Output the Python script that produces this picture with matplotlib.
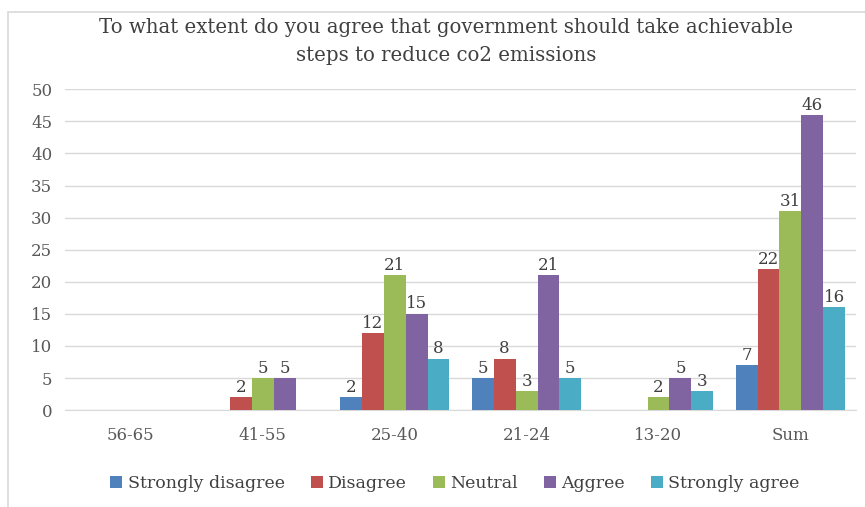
import numpy as np
import matplotlib.pyplot as plt
from matplotlib.patches import Rectangle

categories = ['56-65', '41-55', '25-40', '21-24', '13-20', 'Sum']
series_names = ['Strongly disagree', 'Disagree', 'Neutral', 'Aggree', 'Strongly agree']
strongly_disagree = [0, 0, 2, 5, 0, 7]
disagree = [0, 2, 12, 8, 0, 22]
neutral = [0, 5, 21, 3, 2, 31]
aggree = [0, 5, 15, 21, 5, 46]
strongly_agree = [0, 0, 8, 5, 3, 16]
colors = ['#4F81BD', '#C0504D', '#9BBB59', '#8064A2', '#4BACC6']

plt.rcParams['font.family'] = ['DejaVu Serif']

fig = plt.figure(figsize=(8.65, 5.07), dpi=100)
ax = fig.add_axes([0.075, 0.191, 0.915, 0.633])

series = [strongly_disagree, disagree, neutral, aggree, strongly_agree]
x = np.arange(len(categories))
width = 0.166
for i, (vals, name, col) in enumerate(zip(series, series_names, colors)):
    pos = x + (i - 2) * width
    bars = ax.bar(pos, vals, width, color=col, label=name, zorder=3)
    # Excel leaves zero values without a label
    labels = [str(v) if v else '' for v in vals]
    ax.bar_label(bars, labels=labels, padding=1, fontsize=12, color='#404040')

ax.set_xlim(-0.5, len(categories) - 0.5)
ax.set_ylim(0, 50)
ax.set_yticks(range(0, 51, 5))
ax.set_xticks(x)
ax.set_xticklabels(categories)
ax.tick_params(axis='both', length=0, labelsize=12, labelcolor='#595959')
ax.tick_params(axis='x', pad=12)
ax.tick_params(axis='y', pad=9)
ax.grid(axis='y', color='#D9D9D9', linewidth=1, zorder=0)
for s in ['top', 'right', 'left']:
    ax.spines[s].set_visible(False)
ax.spines['bottom'].set_color('#D9D9D9')

fig.text(0.516, 0.918, 'To what extent do you agree that government should take achievable\nsteps to reduce co2 emissions',
         ha='center', va='center', fontsize=14.2, color='#404040', linespacing=1.55)

fig.legend(loc='center', bbox_to_anchor=(0.526, 0.047), ncol=5, frameon=False,
           fontsize=12.5, handlelength=0.7, handleheight=0.7, handletextpad=0.3,
           columnspacing=1.5, labelcolor='#404040')

# light chart-area border (left and top edges visible in the crop)
fig.patches.append(Rectangle((8 / 865, -0.1), 1.2, (507 - 12) / 507 + 0.1,
                             transform=fig.transFigure, fill=False,
                             edgecolor='#D9D9D9', linewidth=1.2))

fig.savefig('out.png', dpi=100)
